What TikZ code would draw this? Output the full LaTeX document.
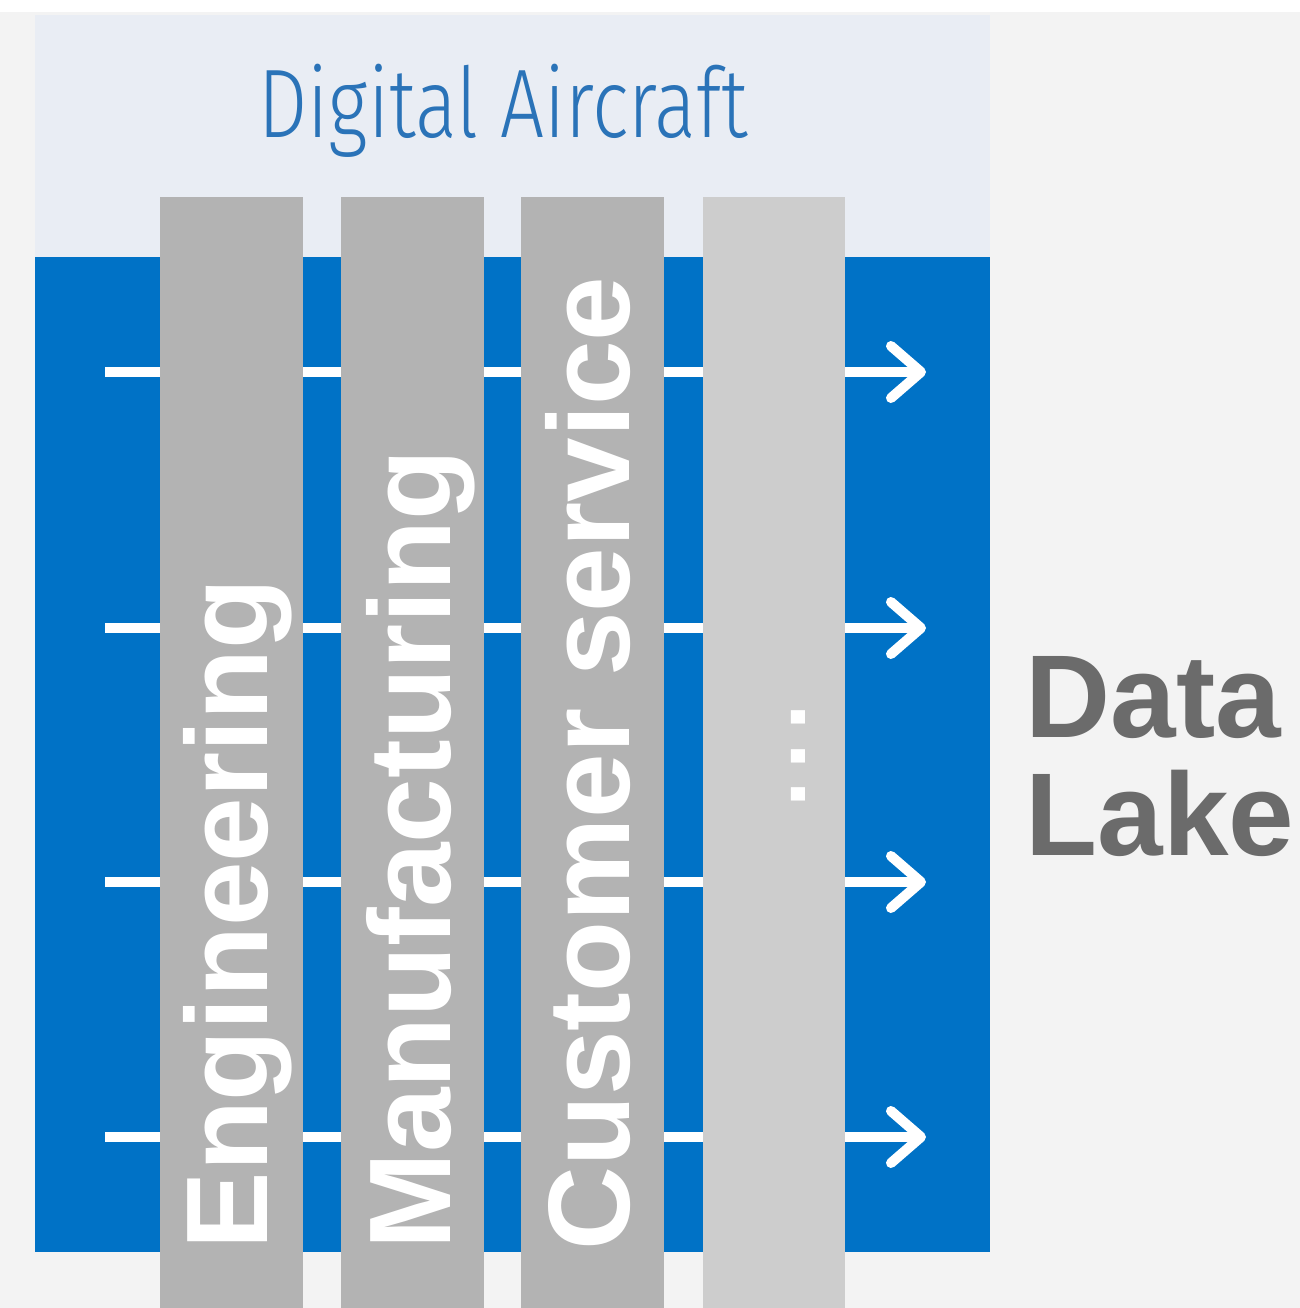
\documentclass[tikz,border=0pt]{standalone}
\usepackage{fontspec}
\setmainfont{Liberation Sans}
\newfontfamily\lightfont{Fira Sans Light}
\usetikzlibrary{arrows.meta}

\definecolor{bgcol}{HTML}{F3F3F3}
\definecolor{panelcol}{HTML}{E9EDF4}
\definecolor{lakeblue}{HTML}{0072C6}
\definecolor{colgrey}{HTML}{B3B3B3}
\definecolor{colpale}{HTML}{CDCDCD}
\definecolor{titleblue}{HTML}{2A73B8}
\definecolor{lakegrey}{HTML}{6B6B6B}

\tikzset{
  flow/.style={draw=white, line width=0.1cm, line cap=butt},
  chevron/.style={draw=white, line width=0.1cm, line join=round, line cap=round},
  coltext/.style={rotate=90, inner sep=0pt, text=white,
    font=\bfseries\fontsize{33}{33}\selectfont},
}

\begin{document}
\begin{tikzpicture}[x=0.01cm, y=-0.01cm]
  \useasboundingbox (0,0) rectangle (1300,1308);
  % page background
  \fill[bgcol] (0,0) rectangle (1300,1308);
  \fill[white] (0,0) rectangle (1300,12);

  % header band and the blue data layer
  \fill[panelcol] (35,15) rectangle (990,258);
  \fill[lakeblue] (35,257) rectangle (990,1252);

  % horizontal data flows running under the columns
  \foreach \k/\yy in {1/372, 2/628, 3/882, 4/1137} {
    \coordinate (s\k) at (105,\yy);
    \coordinate (e\k) at (921,\yy);
    \draw[flow] (s\k) -- (e\k);
    \draw[chevron] (e\k) ++(-30,-26) -- (e\k) -- ++(-30,26);
  }

  % business columns
  \fill[colgrey] (160,197) rectangle (303,1308);
  \fill[colgrey] (341,197) rectangle (484,1308);
  \fill[colgrey] (521,197) rectangle (664,1308);
  \fill[colpale] (703,197) rectangle (845,1308);

  % column labels
  \node[coltext, anchor=base west] (eng) at (268,1250) {Engineering};
  \node[coltext, anchor=base west] (man) at (450,1250) {Manufacturing};
  \node[coltext, anchor=base west] (cust) at (629,1251) {Customer service};
  \node[coltext, anchor=base, font=\bfseries\fontsize{27}{27}\selectfont]
        (more) at (805,756) {.\kern3.4pt.\kern3.4pt.};

  % titles
  \node[font=\lightfont\fontsize{27.7}{30}\selectfont, text=titleblue,
        anchor=base west, inner sep=0pt] (title) at (258,137)
        {\scalebox{0.8}[1]{Digital Aircraft}};
  \node[font=\bfseries\fontsize{33.5}{33.3}\selectfont, text=lakegrey,
        anchor=base west, align=left, inner sep=0pt] (lake) at (1025,855) {Data\\Lake};
\end{tikzpicture}
\end{document}
